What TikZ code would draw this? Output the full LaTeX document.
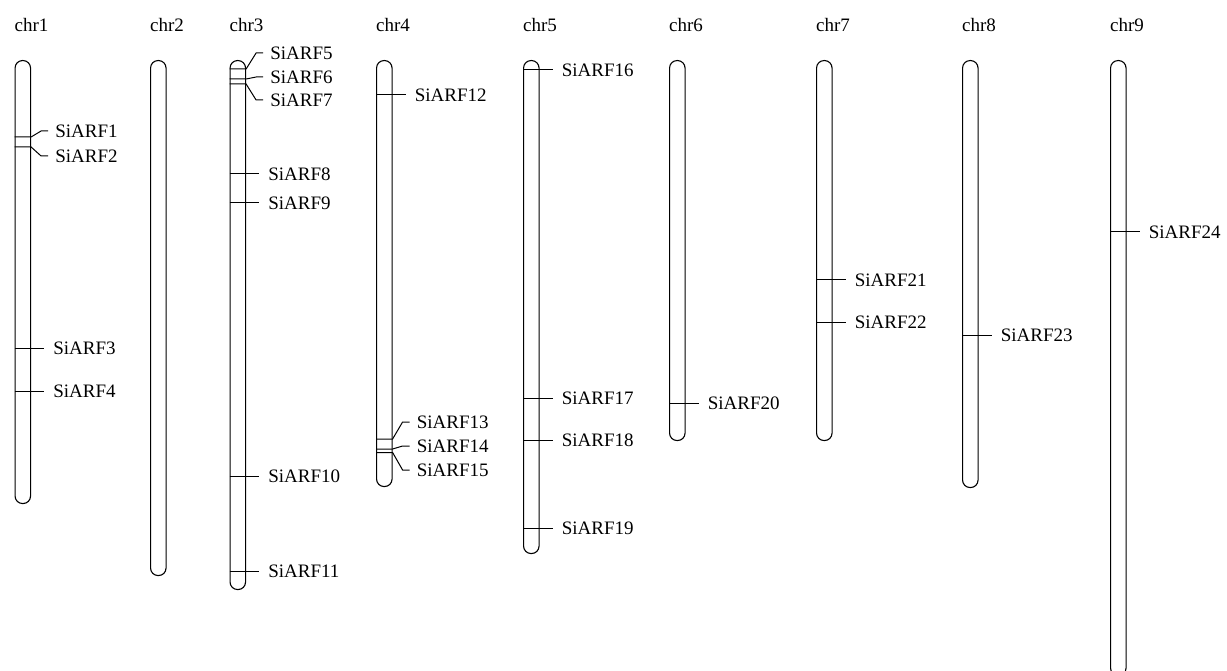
\documentclass[tikz,border=0pt]{standalone}
\usepackage{fontspec}
\setmainfont{Liberation Serif}
\begin{document}
\begin{tikzpicture}[x=1pt,y=-1pt,
  chrom/.style={draw, line width=1.1pt, rounded corners=7.5pt, minimum width=15.5pt, inner sep=0pt, anchor=north west},
  lab/.style={font=\fontsize{19}{22}\selectfont, anchor=west, inner sep=0pt},
  clab/.style={font=\fontsize{19}{22}\selectfont, anchor=base west, inner sep=0pt},
  tick/.style={line width=1pt}]
\useasboundingbox (0,0) rectangle (1227,671);
% chromosomes
\foreach \i/\x/\h in {1/14.5/443, 2/150/515, 3/229.5/529, 4/376/426, 5/523/493, 6/669/380, 7/816/380, 8/962/427, 9/1110/615}{
  \node[chrom, minimum height=\h pt] (c\i) at (\x,60) {};
  \node[clab] (t\i) at (\x,32) {chr\i};
}
% single markers
\foreach \c/\y/\n in {c1/348/3, c1/391/4, c3/174/8, c3/203/9, c3/476/10, c3/571/11, c4/95/12,
  c5/70/16, c5/398/17, c5/440/18, c5/528/19, c6/403/20, c7/280/21, c7/322/22, c8/335/23, c9/232/24}{
  \path (\c.east |- 0,\y) ++(22,0) node[lab] (s\n) {SiARF\n};
  \draw[tick] (\c.west |- s\n.west) -- ([xshift=-9pt]s\n.west);
}
% grouped markers
\foreach \c/\ty/\ly/\n in {c1/137/131/1, c1/147/156/2, c3/69/53/5, c3/79/77/6, c3/84/100/7,
  c4/439/422/13, c4/449/446/14, c4/452.5/470/15}{
  \path (\c.east |- 0,\ly) ++(24,0) node[lab] (s\n) {SiARF\n};
  \draw[tick] (\c.west |- 0,\ty) -- (\c.east |- 0,\ty) -- ([xshift=-14pt]s\n.west) -- ([xshift=-7pt]s\n.west);
}
\end{tikzpicture}
\end{document}
